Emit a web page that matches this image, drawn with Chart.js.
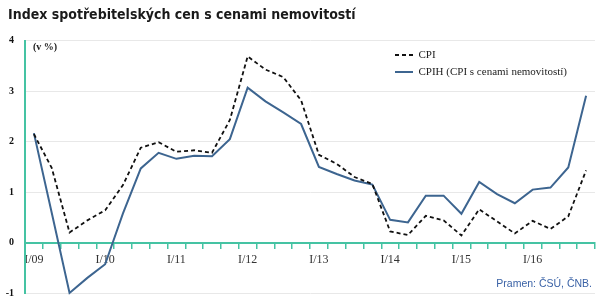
<!DOCTYPE html>
<html>
<head>
<meta charset="utf-8">
<script src="https://cdn.jsdelivr.net/npm/chart.js@4.4.0/dist/chart.umd.min.js"></script>
<style>
  body { margin: 0; background: #fff; }
  #wrap { position: relative; width: 604px; height: 306px; }
  #unit { position: absolute; left: 33px; top: 41px; font: bold 10px 'Liberation Serif', 'Times New Roman', serif; color: #222; }
  #source { position: absolute; right: 12px; top: 277px; font: 10.5px 'Liberation Sans', Arial, sans-serif; color: #3a62a6; }
</style>
</head>
<body>
<div id="wrap">
  <canvas id="chart" width="604" height="306"></canvas>
  <div id="unit">(v %)</div>
  <div id="source">Pramen: ČSÚ, ČNB.</div>
</div>
<script>
const quarters = [
  "I/09", "II/09", "III/09", "IV/09",
  "I/10", "II/10", "III/10", "IV/10",
  "I/11", "II/11", "III/11", "IV/11",
  "I/12", "II/12", "III/12", "IV/12",
  "I/13", "II/13", "III/13", "IV/13",
  "I/14", "II/14", "III/14", "IV/14",
  "I/15", "II/15", "III/15", "IV/15",
  "I/16", "II/16", "III/16", "IV/16"
];

const cpi = [
  2.15, 1.48, 0.20, 0.44,
  0.64, 1.14, 1.88, 1.99,
  1.80, 1.83, 1.78, 2.43,
  3.69, 3.43, 3.28, 2.82,
  1.74, 1.56, 1.30, 1.16,
  0.22, 0.15, 0.53, 0.44,
  0.14, 0.66, 0.42, 0.18,
  0.43, 0.27, 0.52, 1.43
];

const cpih = [
  2.17, 0.59, -1.00, -0.70,
  -0.43, 0.58, 1.47, 1.78,
  1.66, 1.72, 1.71, 2.05,
  3.07, 2.80, 2.58, 2.35,
  1.50, 1.36, 1.23, 1.15,
  0.45, 0.40, 0.93, 0.93,
  0.57, 1.20, 0.96, 0.78,
  1.05, 1.09, 1.49, 2.91
];

const yTicks = [-1, 0, 1, 2, 3, 4];

const teal = '#45c3a3';

// put the legend in the top-right corner of the plot, nudge the title
const boxSpots = {
  id: 'boxSpots',
  beforeDraw(chart) {
    const lg = chart.legend;
    if (lg) {
      lg.left = 389;
      lg.right = lg.left + lg.width;
      lg.top = 43.5;
      lg.bottom = lg.top + lg.height;
    }
    const tb = chart.titleBlock;
    if (tb) {
      tb.left = 8;
    }
  }
};

new Chart(document.getElementById('chart'), {
  type: 'line',
  data: {
    labels: quarters,
    datasets: [
      {
        label: 'CPI',
        data: cpi,
        borderColor: '#111',
        backgroundColor: '#111',
        borderWidth: 1.8,
        borderDash: [4, 3],
        pointRadius: 0,
        pointStyle: 'line',
        tension: 0,
        clip: 4
      },
      {
        label: 'CPIH (CPI s cenami nemovitostí)',
        data: cpih,
        borderColor: '#3d6590',
        backgroundColor: '#3d6590',
        borderWidth: 2,
        pointRadius: 0,
        pointStyle: 'line',
        tension: 0,
        clip: 4
      }
    ]
  },
  options: {
    responsive: false,
    animation: false,
    layout: { padding: { left: 4, right: 9, top: 0, bottom: 13 } },
    plugins: {
      title: {
        display: true,
        text: 'Index spotřebitelských cen s cenami nemovitostí',
        align: 'start',
        color: '#1a1a1a',
        font: { family: "'Liberation Sans Narrow', 'DejaVu Sans Condensed', 'Liberation Sans', sans-serif", size: 14, weight: 'bold' },
        padding: { top: 7, bottom: 17 }
      },
      legend: {
        position: 'chartArea',
        align: 'start',
        labels: {
          usePointStyle: true,
          pointStyleWidth: 18,
          padding: 6,
          color: '#222',
          font: { family: "'Liberation Serif', 'Times New Roman', serif", size: 11 },
          generateLabels: (chart) => {
            const items = Chart.defaults.plugins.legend.labels.generateLabels(chart);
            items.forEach(it => {
              const ds = chart.data.datasets[it.datasetIndex];
              it.lineDash = ds.borderDash || [];
              it.lineWidth = ds.borderWidth;
              it.strokeStyle = ds.borderColor;
            });
            return items;
          }
        }
      },
      tooltip: { enabled: false }
    },
    scales: {
      x: {
        position: { y: 0 },
        offset: true,
        afterFit: (scale) => { scale.paddingLeft = 0; scale.paddingRight = 0; },
        grid: {
          offset: true,
          drawOnChartArea: false,
          drawTicks: true,
          tickLength: 5,
          color: teal,
          lineWidth: 1.5
        },
        border: { color: teal, width: 2 },
        ticks: {
          autoSkip: false,
          maxRotation: 0,
          padding: 5,
          color: '#333',
          font: { family: "'Liberation Serif', 'Times New Roman', serif", size: 12 },
          callback: function (value, index) {
            const lab = this.getLabelForValue(value);
            return lab.startsWith('I/') ? lab : '';
          }
        }
      },
      y: {
        min: -1,
        max: 4,
        afterBuildTicks: (scale) => { scale.ticks = yTicks.map(v => ({ value: v })); },
        afterFit: (scale) => { scale.width = 21; scale.paddingTop = 0; scale.paddingBottom = 0; },
        grid: { color: '#e8e8e8', lineWidth: 1, drawTicks: false },
        border: { color: teal, width: 2 },
        ticks: {
          padding: 11,
          color: '#111',
          font: { family: "'Liberation Serif', 'Times New Roman', serif", size: 10, weight: 'bold' }
        }
      }
    }
  },
  plugins: [boxSpots]
});
</script>
</body>
</html>
